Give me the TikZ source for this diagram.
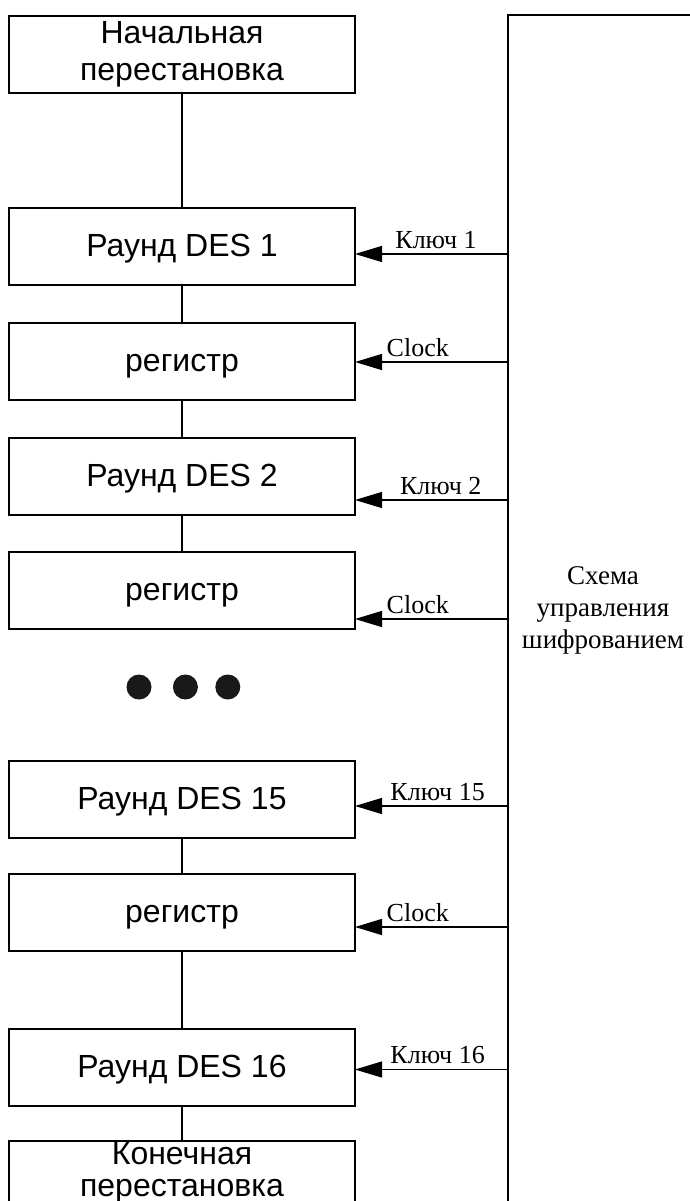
\documentclass[tikz,border=0pt]{standalone}
\usepackage{fontspec}
\setmainfont{Liberation Serif}
\setsansfont{Liberation Sans}
\usetikzlibrary{arrows.meta, positioning}

\begin{document}
\begin{tikzpicture}[x=1pt, y=-1pt,
  box/.style={draw, rectangle, line width=1.3pt, outer sep=0pt, inner sep=0pt, align=center,
    minimum width=346pt, minimum height=77pt, font=\sffamily\fontsize{32}{37}\selectfont},
  onebox/.style={box, text height=26pt, text depth=6pt},
  lbl/.style={font=\fontsize{26}{30}\selectfont, inner sep=0pt, anchor=base, yshift=6pt},
  wire/.style={line width=1.3pt},
  ar/.style={-{Triangle[length=27pt, width=16pt]}, line width=1.3pt},
  blob/.style={circle, fill=black!90, minimum size=25pt, inner sep=0pt}]

\useasboundingbox (0,0) rectangle (690,1201);
\clip (0,0) rectangle (690,1201);

% --- left column: the 16 rounds with their registers
\node[box] (init) at (182,54.5) {Начальная\\перестановка};
\node[onebox, below=115pt of init] (r1) {Раунд DES 1};
\node[onebox, below=38pt of r1] (reg1) {регистр};
\node[onebox, below=38pt of reg1] (r2) {Раунд DES 2};
\node[onebox, below=37pt of r2] (reg2) {регистр};
\node[onebox, below=132pt of reg2] (r15) {Раунд DES 15};
\node[onebox, below=36pt of r15] (reg15) {регистр};
\node[onebox, below=78pt of reg15] (r16) {Раунд DES 16};
\node[box, below=35pt of r16, minimum height=64pt,
  font=\sffamily\fontsize{32}{32}\selectfont] (final) {Конечная\\перестановка};

% rounds 3..14 left out
\node[blob] (d1) at (139,687) {};
\node[blob, right=21pt of d1] (d2) {};
\node[blob, right=17pt of d2] (d3) {};

% --- right column: control unit
\node[draw, line width=1.3pt, outer sep=0pt, anchor=north west, align=center,
  minimum width=190pt, minimum height=1190pt, font=\fontsize{27}{32}\selectfont]
  (ctrl) at (508,15) {Схема\\управления\\шифрованием};

\foreach \a/\b in {init/r1, r1/reg1, reg1/r2, r2/reg2, r15/reg15, reg15/r16, r16/final}
  \draw[wire] (\a) -- (\b);

% keys and clock from the control unit
\foreach \n/\dy/\t/\p in {r1/7.5/Ключ 1/0.47, reg1/0.5/Clock/0.59, r2/23.5/Ключ 2/0.44,
    reg2/28.5/Clock/0.59, r15/6.5/Ключ 15/0.46, reg15/14.5/Clock/0.59, r16/2/Ключ 16/0.46} {
  \coordinate (k\n) at ([yshift=-\dy pt]\n.east);
  \draw[ar] (ctrl.west |- k\n) -- node[lbl, pos=\p] {\t} (k\n);
}
\end{tikzpicture}
\end{document}
